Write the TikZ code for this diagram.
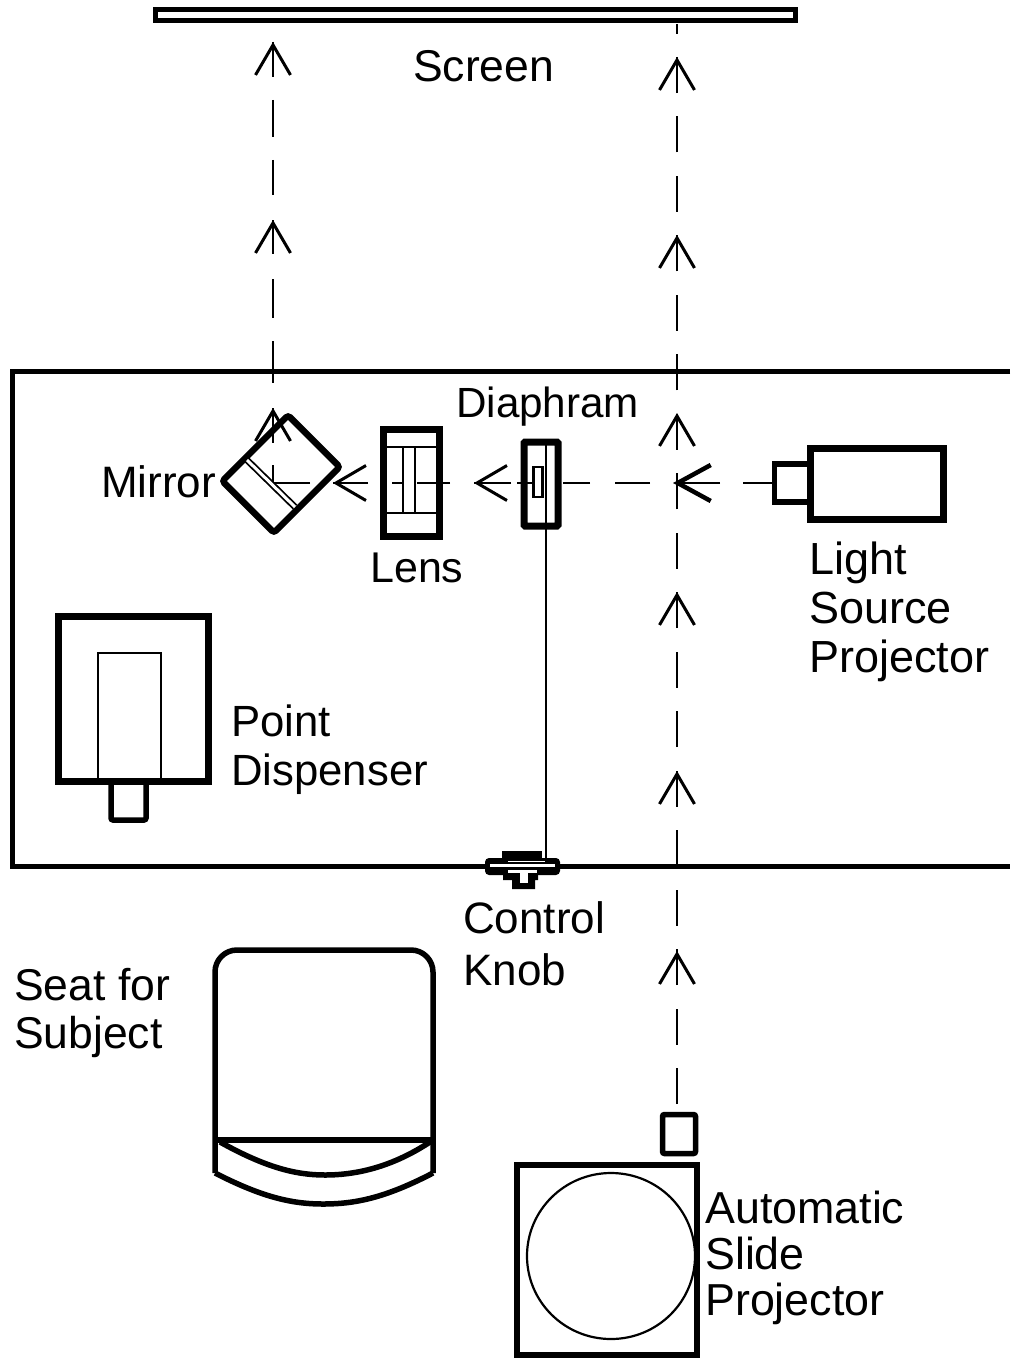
\documentclass[tikz,border=0pt]{standalone}
\usepackage{fontspec}
\setmainfont{Liberation Sans}
\usetikzlibrary{arrows.meta}

\tikzset{
    box/.style={draw, line width=#1, inner sep=0pt, outer sep=0pt},
    box/.default=5pt,
    pen/.style={line width=5.5pt, line join=round},
    thinpen/.style={line width=2.2pt},
    lab/.style 2 args={font=\fontsize{#1}{#2}\selectfont, align=left, inner sep=0pt, anchor=base west},
    ray/.style={line width=2.5pt},
    head/.style={line width=3pt, -{Straight Barb[length=30pt, width=35pt, line width=3pt]}},
}

\begin{document}
\begin{tikzpicture}[x=1pt, y=-1pt]
    \useasboundingbox (0,0) rectangle (1010,1359);

    % Screen and table
    \node[box=5pt, minimum width=640pt, minimum height=11.5pt] (screen) at (475,15.2) {};
    \draw[line width=5pt] (1010,371) -- (12,371) -- (12,866) -- (1010,866);

    % Light paths
    \coordinate (leftend) at (273,42);
    \coordinate (bend) at (273,483);
    \coordinate (turn) at (772,483);
    \coordinate (slideout) at (677,1104);
    \coordinate (screenin) at (677,24);
    \draw[ray, dash pattern=on 35pt off 23pt on 37pt off 23pt on 35pt off 25pt on 34pt off 25pt on 39pt off 23pt on 42pt off 25pt on 35pt off 22pt on 18pt] (leftend) -- (bend);
    \draw[ray, dash pattern=on 29pt off 23pt on 43pt off 27pt on 35pt off 25pt on 27pt off 30pt on 16pt off 6pt on 37pt off 24pt on 33pt off 14pt on 11pt off 24pt on 35pt off 23pt on 37pt] (turn) -- (bend);
    \draw[ray, dash pattern=on 36pt off 23.47pt] (slideout) -- (screenin);

    % Arrow heads
    \foreach \tipname/\tipx/\tipy in {la/273/42, lb/273/220, lc/273/408, ra/677/57, rb/677/235, rc/677/413, rd/677/592, re/677/771, rf/677/951} {
        \coordinate (\tipname) at (\tipx,\tipy);
        \draw[head] ([yshift=-6pt]\tipname) -- (\tipname);
    }
    \foreach \tipname/\tipx in {ha/333, hb/474} {
        \coordinate (\tipname) at (\tipx,483);
        \draw[head] ([xshift=6pt]\tipname) -- (\tipname);
    }
    \coordinate (hc) at (673,483);
    \draw[head, line width=4.5pt, -{Straight Barb[length=33pt, width=36pt, line width=4.5pt]}] ([xshift=6pt]hc) -- (hc);

    % Mirror
    \node[box=6.5pt, rounded corners=3pt, rotate=-45, minimum width=73pt, minimum height=93pt] (mirror) at (281,474) {};
    \draw[line width=1.8pt, double, double distance=3pt] (247,460) -- (295,507);

    % Lens
    \node[box=7pt, minimum width=56pt, minimum height=107pt] (lens) at (411,483) {};
    \draw[line width=2.5pt] (lens.west |- 0,447) -- (lens.east |- 0,447);
    \draw[line width=2.5pt] (lens.west |- 0,513) -- (lens.east |- 0,513);
    \draw[thinpen] (403,447) -- (403,513);
    \draw[thinpen] (415,447) -- (415,513);

    % Diaphram
    \node[box=7pt, rounded corners=1pt, minimum width=34pt, minimum height=84pt] (diaphram) at (541,484) {};
    \node[box=2.2pt, minimum width=9pt, minimum height=30pt] (slit) at (538,482) {};

    % Light source
    \node[box=6.5pt, minimum width=133pt, minimum height=71pt] (lamp) at (877,484) {};
    \node[box=5.5pt, anchor=east, minimum width=36pt, minimum height=38pt] (snout) at (lamp.west |- 0,483) {};

    % Point dispenser
    \node[box=7pt, minimum width=150pt, minimum height=165pt] (dispenser) at (133,699) {};
    \node[box=2.2pt, anchor=south, minimum width=63pt, minimum height=129pt] (chute) at (129.5,782) {};
    \node[box=5.5pt, anchor=north, rounded corners=2pt, minimum width=35pt, minimum height=38pt] (nozzle) at (128.5,782) {};

    % Control knob
    \coordinate (knobtop) at (546,858);
    \draw[line width=2pt] ([xshift=5pt]diaphram.north) -- (diaphram.north -| knobtop) -- (knobtop);
    \fill (502,851) rectangle (542,859);
    \fill[rounded corners=4pt] (485,858) rectangle (560,875);
    \fill (503,873) -- (538,873) -- (538,880) -- (535,880) -- (535,889) -- (512,889) -- (512,880) -- (503,880) -- cycle;
    \fill[white] (490,864) rectangle (555,867);
    \fill[white] (508,860.5) rectangle (545,861.8);
    \fill[white] (508,870) rectangle (537,873);
    \fill[white] (520,873) rectangle (528,883);

    % Seat
    \draw[pen] (215,1173) [rounded corners=22pt] -- (215,950) -- (433,950) [sharp corners] -- (433,1173);
    \draw[pen] (215,1140) -- (433,1140);
    \draw[pen] (433,1173) .. controls (385,1198) and (355,1204) .. (323,1204) .. controls (290,1204) and (260,1196) .. (215,1173);
    \draw[pen] (220,1142) .. controls (265,1167) and (295,1175) .. (325,1175) .. controls (360,1175) and (395,1165) .. (430,1142);

    % Slide projector
    \node[box=5.5pt, rounded corners=2pt, minimum width=33pt, minimum height=39pt] (gate) at (679,1134) {};
    \node[box=6.5pt, minimum width=180pt, minimum height=190pt] (slide) at (607,1260) {};
    \draw[thinpen] (611,1256) ellipse (84 and 83);

    % Labels
    \node[lab={44.5}{49}] (screenlab) at (413,82) {Screen};
    \node[lab={42.2}{49}] (diaphramlab) at (456,417) {Diaphram};
    \node[lab={44}{49}] (mirrorlab) at (101,497) {Mirror};
    \node[lab={43}{49}] (lenslab) at (370,582) {Lens};
    \node[lab={45}{49}] (lamplab) at (809,672) {Light\\Source\\Projector};
    \node[lab={43.7}{49}] (dispenserlab) at (231,785) {Point\\Dispenser};
    \node[lab={44}{51.5}] (knoblab) at (463,985) {Control\\Knob};
    \node[lab={44.5}{48}] (seatlab) at (14,1048) {Seat for\\Subject};
    \node[lab={44.8}{46}] (slidelab) at (705,1315) {Automatic\\Slide\\Projector};
\end{tikzpicture}
\end{document}
